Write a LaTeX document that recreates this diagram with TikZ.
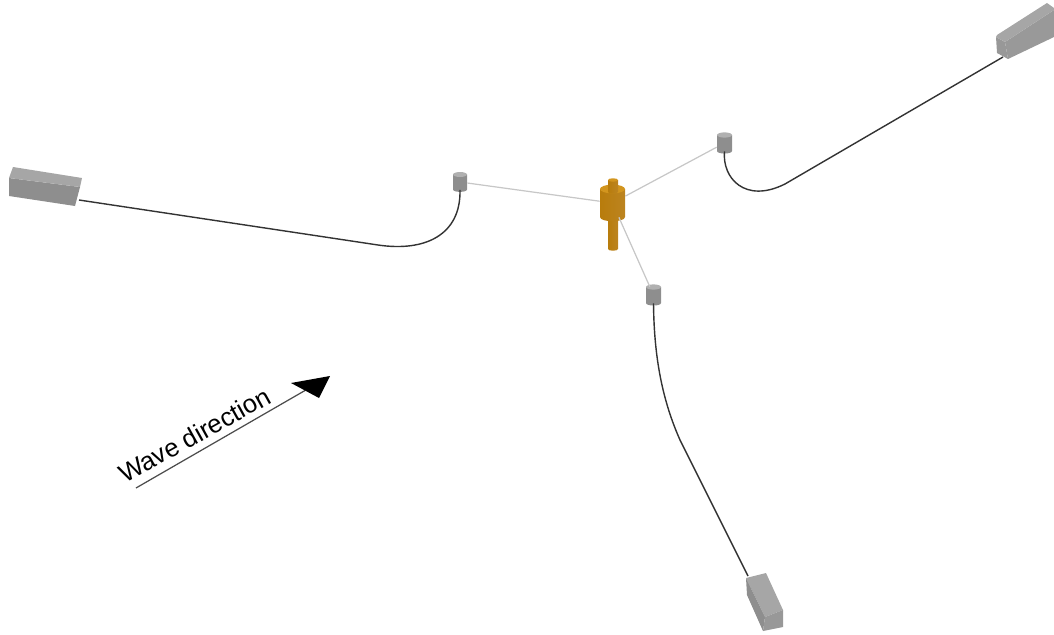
\documentclass[tikz,border=0pt]{standalone}
\usepackage{fontspec}
\setmainfont{Liberation Sans}
\usetikzlibrary{arrows.meta, positioning}
\definecolor{sparleft}{HTML}{B87C0C}
\definecolor{sparmid}{HTML}{D08E14}
\definecolor{sparright}{HTML}{BC8420}
\definecolor{sparend}{HTML}{D2951E}
\definecolor{buoyleft}{HTML}{8E8E8E}
\definecolor{buoymid}{HTML}{A4A4A4}
\definecolor{buoyend}{HTML}{B0B0B0}
\definecolor{blocktop}{HTML}{A6A6A6}
\definecolor{blockleft}{HTML}{8E8E8E}
\definecolor{blockright}{HTML}{989898}
% name, x, y, half width, half height, left, middle, right, end
\newcommand{\cylnode}[9]{
    \node[inner sep=0pt, minimum width=#4*0.04cm, minimum height=#5*0.04cm] (#1) at (#2,#3) {};
    \begin{scope}[shift={(#2,#3)}]
        \shade[left color=#6, middle color=#7, right color=#8] (-#4,-#5) -- (-#4,#5) .. controls (-#4,#5+#4*0.45) and (#4,#5+#4*0.45) .. (#4,#5) -- (#4,-#5) -- cycle;
        \fill[#9] (0,-#5) ellipse [x radius=#4, y radius=#4*0.35];
    \end{scope}
}
\tikzset{
    mooring/.style={draw=black!22, line width=0.7pt},
    cable/.style={draw=black!80, line width=0.8pt},
}

\begin{document}
\begin{tikzpicture}[x=0.02cm, y=-0.02cm]
        \useasboundingbox (0,0) rectangle (1054,635);

        % Spar
        \cylnode{sparlow}{613}{233}{5}{16}{sparleft}{sparmid}{sparright}{sparleft}
        \cylnode{spar}{612.5}{203}{12.5}{14}{sparleft}{sparmid}{sparright}{sparend}
        \cylnode{spartop}{613}{186}{5}{6}{sparleft}{sparmid}{sparright}{sparend}

        % Buoys
        \cylnode{buoywest}{460}{182}{7}{7.5}{buoyleft}{buoymid}{buoyleft}{buoyend}
        \cylnode{buoyeast}{724.5}{143}{7.5}{8}{buoyleft}{buoymid}{buoyleft}{buoyend}
        \cylnode{buoysouth}{653.5}{295}{7.5}{8}{buoyleft}{buoymid}{buoyleft}{buoyend}

        % Anchors
        \coordinate (anchorwest) at (79,200);
        \coordinate (anchoreast) at (1003,57);
        \coordinate (anchorsouth) at (748,576);
        \fill[blockleft] (9,178) -- (80,187) -- (75,206) -- (9,196) -- cycle;
        \fill[blocktop] (13,167) -- (82,178) -- (80,187) -- (9,178) -- cycle;
        \fill[blockleft!90!white] (1005,42) -- (1054,10) -- (1054,37) -- (1008,59) -- cycle;
        \fill[blockright] (996,37) -- (1005,42) -- (1008,59) -- (997,53) -- cycle;
        \fill[blocktop] (997,35) -- (1047,3) -- (1054,8) -- (1054,10) -- (1005,42) -- (996,37) -- cycle;
        \fill[blocktop] (746,578) -- (766,573) -- (783,610) -- (765,617) -- cycle;
        \fill[blockleft] (746,578) -- (765,617) -- (763,631) -- (747,595) -- cycle;
        \fill[blockright] (765,617) -- (783,610) -- (783,627) -- (763,631) -- cycle;

        % Connections
        \draw[mooring] (buoywest) -- (spar);
        \draw[mooring] (buoyeast) -- (spar);
        \draw[mooring] (buoysouth) -- (spar);
        \draw[cable] (anchorwest) -- (378,245) .. controls (425,252) and (461,235) .. (buoywest.south);
        \draw[cable] (buoyeast.south) .. controls (722,178) and (745,204) .. (785,184) -- (anchoreast);
        \draw[cable] (buoysouth.south) .. controls (654,350) and (660,395) .. (680,440) -- (anchorsouth);

        % Wave direction
        \coordinate (wavestart) at (136,488);
        \coordinate (waveend) at (305,390.5);
        \draw[draw=black!70, line width=0.7pt] (wavestart) -- (waveend);
        \fill[black] (330,376) -- (291,383) -- (319,398) -- cycle;
        \node[rotate=29, font=\fontsize{14.6}{17}\selectfont] (wavelabel) at (194.5,435) {Wave direction};
\end{tikzpicture}
\end{document}
